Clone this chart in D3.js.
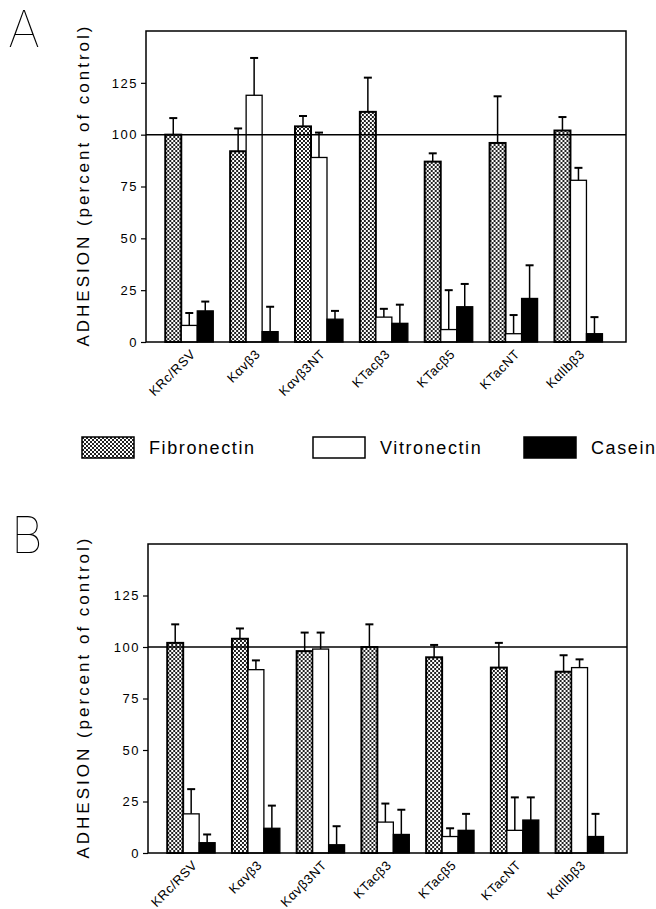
<!DOCTYPE html>
<html>
<head>
<meta charset="utf-8">
<script src="https://cdn.jsdelivr.net/npm/d3@7"></script>
<style>
  html, body { margin: 0; padding: 0; background: #fff; }
  svg { display: block; font-family: "Liberation Sans", Arial, Helvetica, sans-serif; }
</style>
</head>
<body>
<div id="chart"></div>
<script>
// cell lines on the x axis
const CATEGORIES = ['KRc/RSV', 'Kαvβ3', 'Kαvβ3NT', 'KTacβ3', 'KTacβ5', 'KTacNT', 'Kαllbβ3'];
const SERIES = ['Fibronectin', 'Vitronectin', 'Casein'];
const Y_TICKS = [0, 25, 50, 75, 100, 125];

// panel A
const A_FIBRONECTIN = [100, 92, 104, 111, 87, 96, 102];
const A_FIBRONECTIN_ERR = [8, 11, 5, 16.5, 4, 22.5, 6.5];
const A_VITRONECTIN = [8, 119, 89, 12, 6, 4, 78];
const A_VITRONECTIN_ERR = [6, 18, 12, 4, 19, 9, 6];
const A_CASEIN = [15, 5, 11, 9, 17, 21, 4];
const A_CASEIN_ERR = [4.5, 12, 4, 9, 11, 16, 8];

// panel B
const B_FIBRONECTIN = [102, 104, 98, 100, 95, 90, 88];
const B_FIBRONECTIN_ERR = [9, 5, 9, 11, 6, 12, 8];
const B_VITRONECTIN = [19, 89, 99, 15, 8, 11, 90];
const B_VITRONECTIN_ERR = [12, 4.5, 8, 9, 4, 16, 4];
const B_CASEIN = [5, 12, 4, 9, 11, 16, 8];
const B_CASEIN_ERR = [4, 11, 9, 12, 8, 11, 11];

const WIDTH = 656;
const HEIGHT = 909;

const svg = d3.select('#chart').append('svg')
  .attr('width', WIDTH)
  .attr('height', HEIGHT);

// crosshatch fill for fibronectin
const defs = svg.append('defs');
const pat = defs.append('pattern')
  .attr('id', 'hatch')
  .attr('patternUnits', 'userSpaceOnUse')
  .attr('width', 4)
  .attr('height', 4);
pat.append('rect').attr('width', 4).attr('height', 4).attr('fill', '#fff');
pat.append('rect').attr('x', 0).attr('y', 0).attr('width', 2).attr('height', 2).attr('fill', '#222');
pat.append('rect').attr('x', 2).attr('y', 2).attr('width', 2).attr('height', 2).attr('fill', '#222');

const FILLS = { Fibronectin: 'url(#hatch)', Vitronectin: '#fff', Casein: '#000' };

function buildRows(fib, fibErr, vit, vitErr, cas, casErr) {
  return CATEGORIES.map((c, i) => ({
    cat: c,
    bars: [
      { series: 'Fibronectin', value: fib[i], err: fibErr[i] },
      { series: 'Vitronectin', value: vit[i], err: vitErr[i] },
      { series: 'Casein', value: cas[i], err: casErr[i] },
    ],
  }));
}

function drawPanel(box, letter, rows) {
  const g = svg.append('g');

  const x = d3.scaleBand()
    .domain(CATEGORIES)
    .range([box.left, box.right])
    .paddingInner(0.26)
    .paddingOuter(0.33)
    .align(0.45);
  const xs = d3.scaleBand()
    .domain(SERIES)
    .range([0, x.bandwidth()]);
  const y = d3.scaleLinear()
    .domain([0, 150])
    .range([box.bottom, box.top]);

  // y axis ticks
  const yAxis = g.append('g')
    .attr('transform', `translate(${box.left},0)`)
    .call(d3.axisLeft(y).tickValues(Y_TICKS).tickSize(5).tickPadding(3));
  yAxis.select('.domain').remove();
  yAxis.selectAll('line').attr('stroke', '#000').attr('stroke-width', 1.2);
  yAxis.selectAll('text')
    .attr('font-family', '"Liberation Sans", Arial, sans-serif')
    .attr('font-size', 13)
    .attr('letter-spacing', 1.5)
    .attr('fill', '#000');

  // bars
  const groups = g.selectAll('.grp')
    .data(rows)
    .join('g')
    .attr('transform', (d) => `translate(${x(d.cat)},0)`);

  groups.selectAll('rect')
    .data((d) => d.bars)
    .join('rect')
    .attr('x', (d) => xs(d.series))
    .attr('y', (d) => y(d.value))
    .attr('width', xs.bandwidth())
    .attr('height', (d) => y(0) - y(d.value))
    .attr('fill', (d) => FILLS[d.series])
    .attr('stroke', '#000')
    .attr('stroke-width', (d) => d.series === 'Fibronectin' ? 2 : 1.3);

  // error bars
  const eb = groups.selectAll('.err')
    .data((d) => d.bars)
    .join('g')
    .attr('class', 'err');
  eb.append('line')
    .attr('x1', (d) => xs(d.series) + xs.bandwidth() / 2)
    .attr('x2', (d) => xs(d.series) + xs.bandwidth() / 2)
    .attr('y1', (d) => y(d.value))
    .attr('y2', (d) => y(d.value + d.err))
    .attr('stroke', '#000')
    .attr('stroke-width', 1.5);
  eb.append('line')
    .attr('x1', (d) => xs(d.series) + xs.bandwidth() / 2 - 4)
    .attr('x2', (d) => xs(d.series) + xs.bandwidth() / 2 + 4)
    .attr('y1', (d) => y(d.value + d.err))
    .attr('y2', (d) => y(d.value + d.err))
    .attr('stroke', '#000')
    .attr('stroke-width', 2);

  // 100% control line
  g.append('line')
    .attr('x1', box.left)
    .attr('x2', box.right)
    .attr('y1', y(100))
    .attr('y2', y(100))
    .attr('stroke', '#000')
    .attr('stroke-width', 1.5);

  // frame
  g.append('rect')
    .attr('x', box.left)
    .attr('y', box.top)
    .attr('width', box.right - box.left)
    .attr('height', box.bottom - box.top)
    .attr('fill', 'none')
    .attr('stroke', '#000')
    .attr('stroke-width', 1.5);

  // category labels, slanted
  g.selectAll('.cat')
    .data(CATEGORIES)
    .join('text')
    .attr('transform', (d) => `translate(${x(d) + x.bandwidth() / 2 + 7},${box.bottom + 13}) rotate(-45)`)
    .attr('text-anchor', 'end')
    .attr('font-size', 13)
    .attr('letter-spacing', 0.6)
    .attr('fill', '#000')
    .text((d) => d);

  // y axis title
  g.append('text')
    .attr('transform', `translate(89,${(box.top + box.bottom) / 2}) rotate(-90)`)
    .attr('text-anchor', 'middle')
    .attr('font-size', 17)
    .attr('textLength', 320)
    .attr('lengthAdjust', 'spacing')
    .attr('fill', '#000')
    .text('ADHESION (percent of control)');

  // panel letter
  g.append('text')
    .attr('x', letter.x)
    .attr('y', letter.y)
    .attr('font-family', 'Inter, "DejaVu Sans", sans-serif')
    .attr('font-weight', 100)
    .attr('font-size', 50)
    .attr('fill', '#000')
    .text(letter.text);
}

drawPanel({ left: 146, right: 626, top: 31, bottom: 342 },
  { text: 'A', x: 8, y: 47 },
  buildRows(A_FIBRONECTIN, A_FIBRONECTIN_ERR, A_VITRONECTIN, A_VITRONECTIN_ERR, A_CASEIN, A_CASEIN_ERR));

drawPanel({ left: 148, right: 627, top: 544, bottom: 853 },
  { text: 'B', x: 11, y: 553 },
  buildRows(B_FIBRONECTIN, B_FIBRONECTIN_ERR, B_VITRONECTIN, B_VITRONECTIN_ERR, B_CASEIN, B_CASEIN_ERR));

// legend
const LEGEND_X = [82, 313, 524];
const legend = svg.append('g').attr('transform', 'translate(0,437)');
const item = legend.selectAll('g')
  .data(SERIES)
  .join('g')
  .attr('transform', (d, i) => `translate(${LEGEND_X[i]},0)`);
item.append('rect')
  .attr('width', 52)
  .attr('height', 21)
  .attr('fill', (d) => FILLS[d])
  .attr('stroke', '#000')
  .attr('stroke-width', 1.5);
item.append('text')
  .attr('x', 67)
  .attr('y', 16.5)
  .attr('font-size', 18)
  .attr('letter-spacing', 1.6)
  .attr('fill', '#000')
  .text((d) => d);
</script>
</body>
</html>
